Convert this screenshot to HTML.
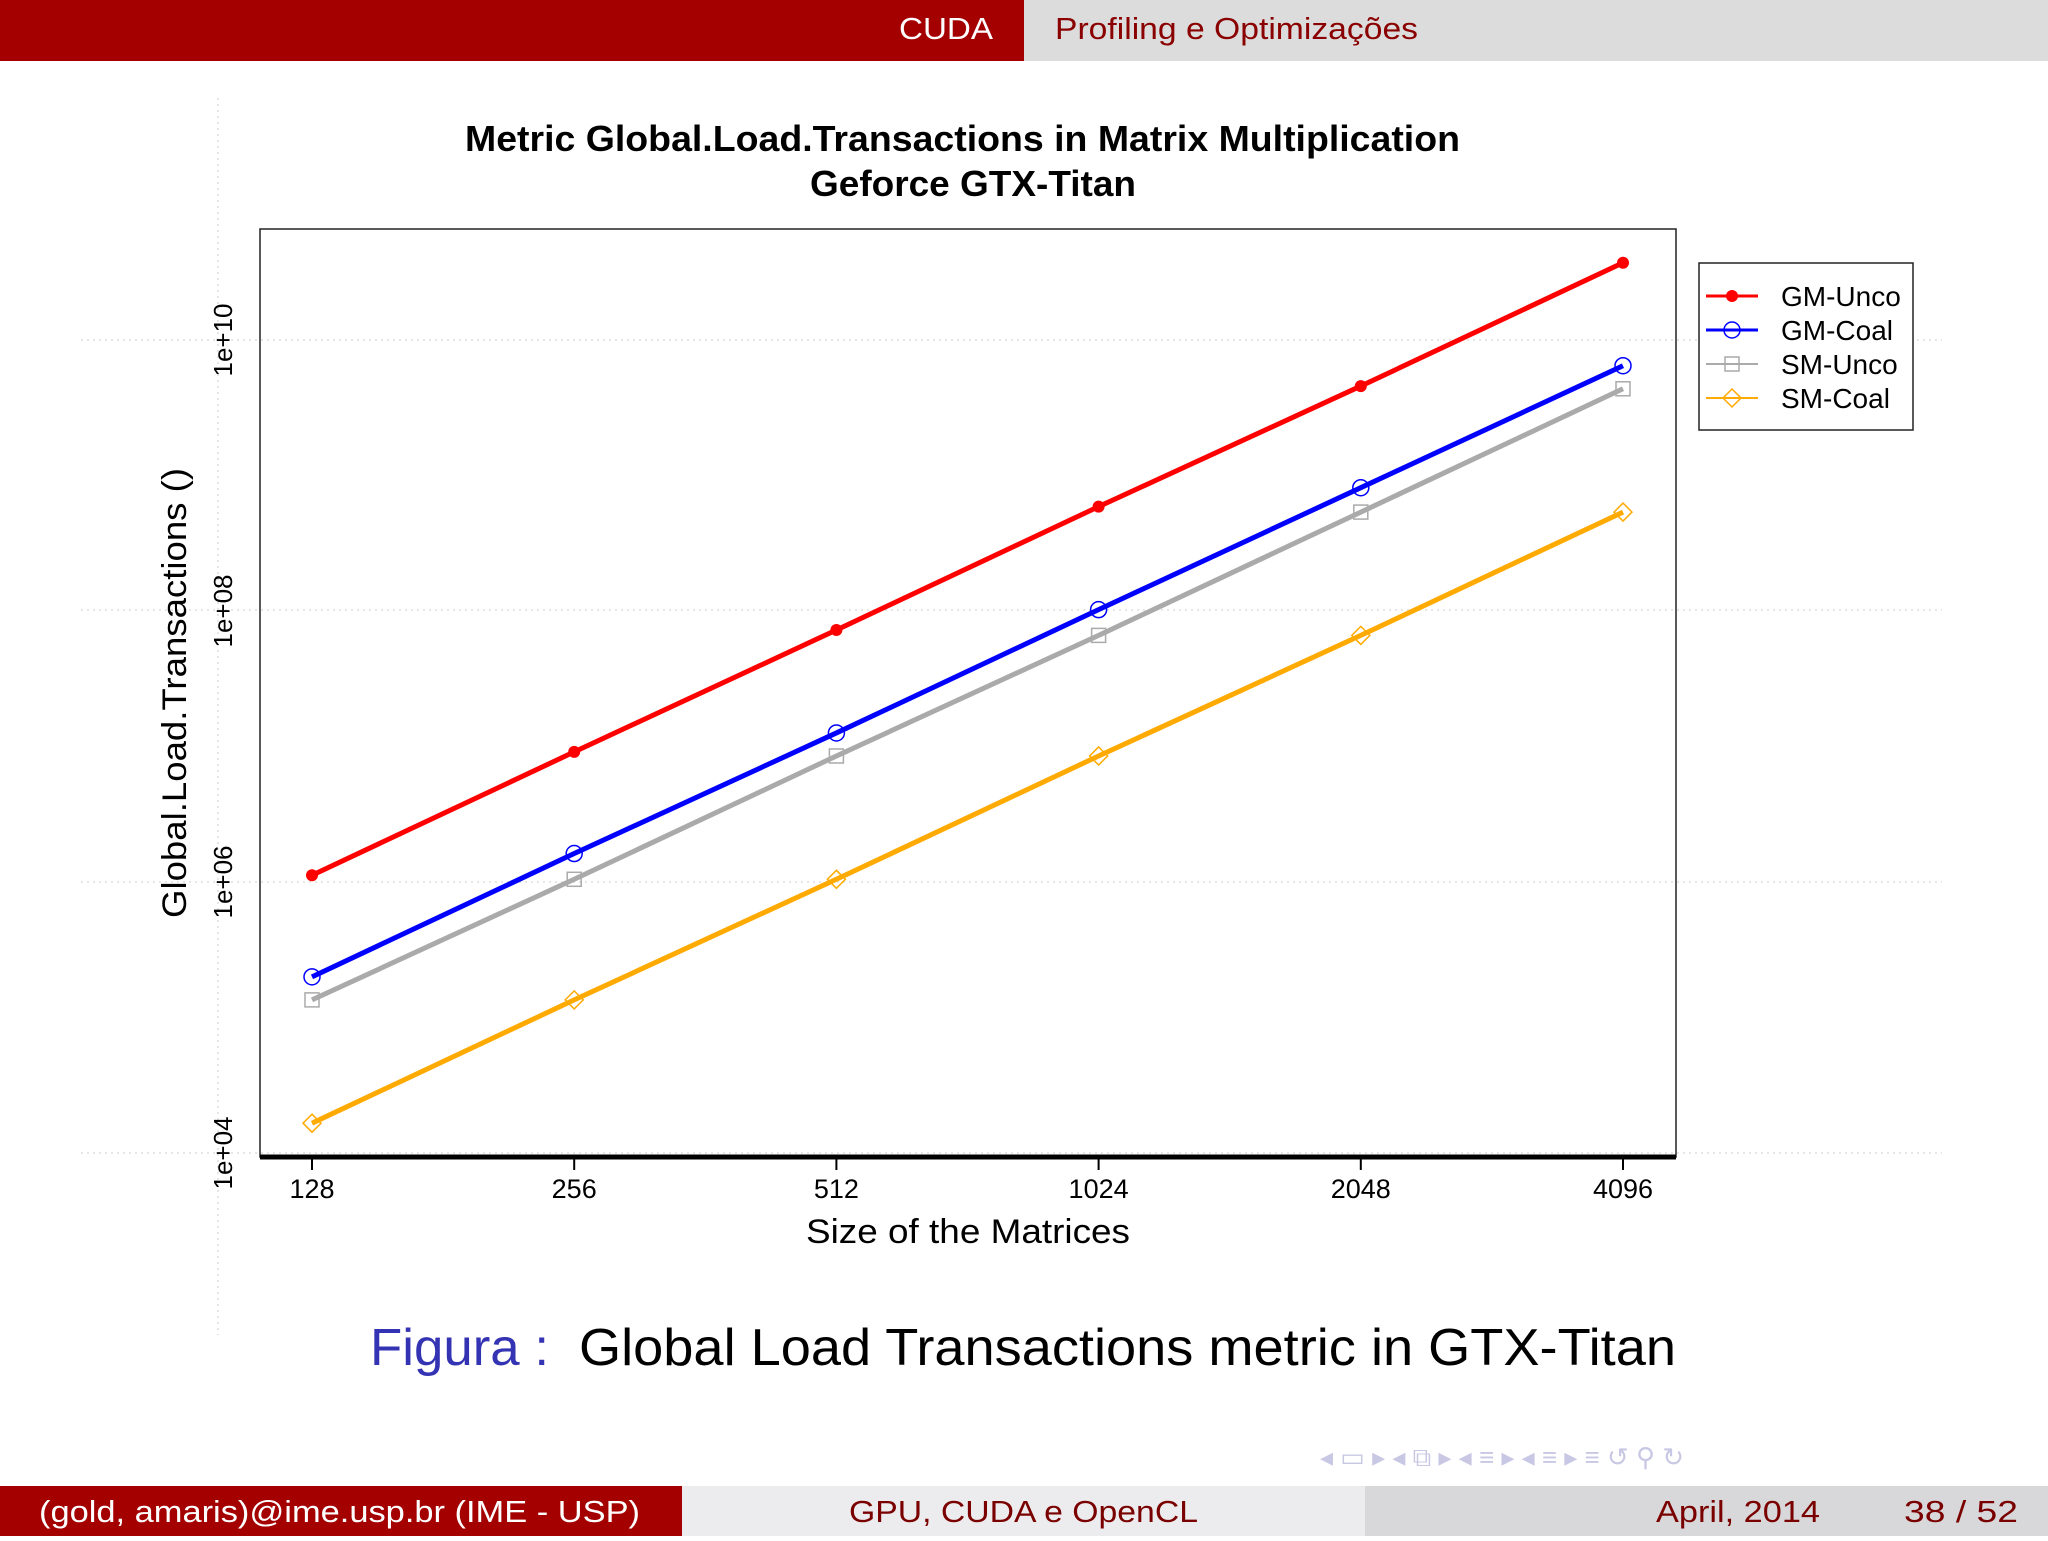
<!DOCTYPE html>
<html><head><meta charset="utf-8"><style>
html,body{margin:0;padding:0;background:#fff}
body{width:2048px;height:1536px;overflow:hidden;position:relative;font-family:"Liberation Sans",sans-serif}
</style></head><body>
<svg width="2048" height="1536" viewBox="0 0 2048 1536" xmlns="http://www.w3.org/2000/svg">
<rect x="0" y="0" width="1024" height="61" fill="#a40000"/>
<rect x="1024" y="0" width="1024" height="61" fill="#dcdcdc"/>
<text x="899" y="39" font-size="31" fill="#fff" textLength="94" lengthAdjust="spacingAndGlyphs">CUDA</text>
<text x="1055" y="39" font-size="31" fill="#8a0000" textLength="363" lengthAdjust="spacingAndGlyphs">Profiling e Optimizações</text>

<g stroke="#ddd" stroke-width="1.5" stroke-dasharray="2,4">
<line x1="81" y1="340" x2="1942" y2="340"/><line x1="81" y1="610" x2="1942" y2="610"/>
<line x1="81" y1="882" x2="1942" y2="882"/><line x1="81" y1="1153" x2="1942" y2="1153"/>
<line x1="218" y1="98" x2="218" y2="1335"/>
</g>

<text x="465" y="151" font-size="36" font-weight="bold" textLength="995" lengthAdjust="spacingAndGlyphs">Metric Global.Load.Transactions in Matrix Multiplication</text>
<text x="810" y="196" font-size="36" font-weight="bold" textLength="326" lengthAdjust="spacingAndGlyphs">Geforce GTX-Titan</text>
<rect x="260" y="229" width="1416" height="928" fill="none" stroke="#222" stroke-width="1.5"/>
<line x1="260" y1="1157" x2="1676" y2="1157" stroke="#000" stroke-width="5"/>
<g id="xt"></g>
<g id="yt"></g>
<text x="806" y="1243" font-size="34" textLength="324" lengthAdjust="spacingAndGlyphs">Size of the Matrices</text>
<text transform="translate(186,918) rotate(-90)" font-size="34" textLength="450" lengthAdjust="spacingAndGlyphs">Global.Load.Transactions ()</text>
<g id="series"></g>

<rect x="1699" y="263" width="214" height="167" fill="#fff" stroke="#222" stroke-width="1.5"/>
<g id="legend"></g>

<text x="370" y="1365" font-size="52" fill="#3333b3" textLength="179" lengthAdjust="spacingAndGlyphs">Figura :</text>
<text x="579" y="1365" font-size="52" fill="#000" textLength="1097" lengthAdjust="spacingAndGlyphs">Global Load Transactions metric in GTX-Titan</text>

<text x="1320" y="1466" font-size="26" fill="#c8c8e4">◂ ▭ ▸   ◂ ⧉ ▸   ◂ ≡ ▸   ◂ ≡ ▸    ≡    ↺ ⚲ ↻</text>

<rect x="0" y="1486" width="682" height="50" fill="#a40000"/>
<rect x="682" y="1486" width="683" height="50" fill="#ececee"/>
<rect x="1365" y="1486" width="683" height="50" fill="#d8d8da"/>
<text x="39" y="1522" font-size="31" fill="#fff" textLength="601" lengthAdjust="spacingAndGlyphs">(gold, amaris)@ime.usp.br  (IME - USP)</text>
<text x="849" y="1522" font-size="31" fill="#7a0000" textLength="349" lengthAdjust="spacingAndGlyphs">GPU, CUDA e OpenCL</text>
<text x="1656" y="1522" font-size="31" fill="#7a0000" textLength="164" lengthAdjust="spacingAndGlyphs">April, 2014</text>
<text x="1904" y="1522" font-size="31" fill="#7a0000" textLength="114" lengthAdjust="spacingAndGlyphs">38 / 52</text>
</svg>
<script>
const categories=["128","256","512","1024","2048","4096"];
const yTickLabels=["1e+04","1e+06","1e+08","1e+10"];
const yTickValues=[4,6,8,10];
const gmUnco=[6.05,6.96,7.86,8.77,9.66,10.57];
const gmCoal=[5.30,6.21,7.10,8.01,8.91,9.81];
const smUnco=[5.13,6.02,6.93,7.82,8.73,9.64];
const smCoal=[4.22,5.13,6.02,6.93,7.82,8.73];
const names=["GM-Unco","GM-Coal","SM-Unco","SM-Coal"];
const NS="http://www.w3.org/2000/svg";
function X(i){return 312+i*(1623-312)/(categories.length-1);}
function Y(v){return 1153-(v-4)*(1153-340)/6;}
function mk(t,a,p){const e=document.createElementNS(NS,t);for(const k in a)e.setAttribute(k,a[k]);p.appendChild(e);return e;}
const xt=document.getElementById('xt');
categories.forEach((c,i)=>{
 const l=mk('line',{x1:X(i),y1:1157,x2:X(i),y2:1170,stroke:'#000','stroke-width':2},xt);
 
 
 const t=mk('text',{x:X(i),y:1198,'font-size':27,'text-anchor':'middle'},xt);t.textContent=c;
 
 
});
const yt=document.getElementById('yt');
yTickValues.forEach((v,i)=>{
 const t=mk('text',{transform:`translate(232,${Y(v)}) rotate(-90)`,'font-size':26,'text-anchor':'middle'},yt);t.textContent=yTickLabels[i];
 
 
});
const cols=["#ff0000","#0000ff","#aaaaaa","#ffaa00"];
const data=[gmUnco,gmCoal,smUnco,smCoal];
const sg=document.getElementById('series');
function marker(k,x,y,p){
 let m;
 if(k===0)m=mk('circle',{cx:x,cy:y,r:6,fill:cols[0]},p);
 else if(k===1)m=mk('circle',{cx:x,cy:y,r:8,fill:'none',stroke:cols[1],'stroke-width':1.5},p);
 else if(k===2)m=mk('rect',{x:x-7,y:y-7,width:14,height:14,fill:'none',stroke:cols[2],'stroke-width':1.5},p);
 else m=mk('polygon',{points:`${x},${y-9} ${x+9},${y} ${x},${y+9} ${x-9},${y}`,fill:'none',stroke:cols[3],'stroke-width':1.5},p);
 
 
}
data.forEach((d,k)=>{
 const pl=mk('polyline',{points:d.map((v,i)=>X(i)+','+Y(v)).join(' '),fill:'none',stroke:cols[k],'stroke-width':5},sg);
 
 
 d.forEach((v,i)=>marker(k,X(i),Y(v),sg));
});
const lg=document.getElementById('legend');
names.forEach((n,k)=>{
 const y=296+k*34;
 const l=mk('line',{x1:1706,y1:y,x2:1758,y2:y,stroke:cols[k],'stroke-width':k<2?3:2},lg);
 
 
 marker(k,1732,y,lg);
 const t=mk('text',{x:1781,y:y+10,'font-size':28},lg);t.textContent=n;
 
 
});
</script>
</body></html>
